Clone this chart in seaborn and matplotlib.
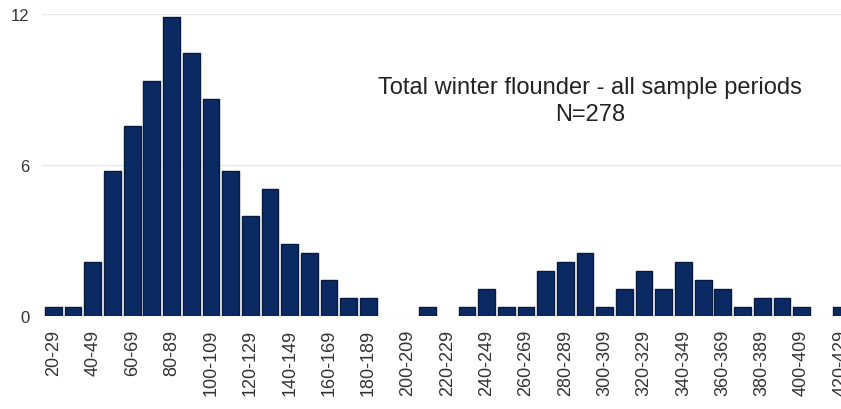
import numpy as np
import pandas as pd
import seaborn as sns
import matplotlib.pyplot as plt

# length bins (mm) and fish counts, N=278
bin_starts = list(range(20, 430, 10))
counts = [1, 1, 6, 16, 21, 26, 33, 29, 24, 16, 11, 14, 8, 7, 4, 2, 2, 0, 0,
          1, 0, 1, 3, 1, 1, 5, 6, 7, 1, 3, 5, 3, 6, 4, 3, 1, 2, 2, 1, 0, 1]
n_total = 278
bin_labels = [f"{b}-{b+9}" for b in bin_starts]

df = pd.DataFrame({"bin": bin_labels, "pct": np.array(counts) / n_total * 100})

sns.set_style("white")
plt.rcParams['font.family'] = ['Liberation Sans', 'DejaVu Sans']

fig = plt.figure(figsize=(8.41, 4.10), dpi=100)
ax = fig.add_axes([42/841, 93/410, 1 - 42/841, 302/410])

sns.barplot(data=df, x="bin", y="pct", color="#0b2a63", edgecolor="#061a3d",
            linewidth=1.0, width=0.85, saturation=1, ax=ax)
# empty bins: no outline
for p in ax.patches:
    if p.get_height() == 0:
        p.set_linewidth(0)

ax.set_xlim(-0.58, 39.4)
ax.set_ylim(0, 12)
ax.set_yticks([0, 6, 12])
ax.set_yticklabels(["0", "6", "12"], fontsize=12, color="#333333")
ax.yaxis.grid(True, color="#e8e8e8", linewidth=1)
ax.set_axisbelow(True)

ax.set_xticks(range(0, len(bin_labels), 2))
ax.set_xticklabels(bin_labels[::2], rotation=90, fontsize=13, color="#333333")
ax.tick_params(axis="both", length=0, pad=9)
ax.set_xlabel("")
ax.set_ylabel("")
for s in ax.spines.values():
    s.set_visible(False)

ax.text(0.686, 0.715, "Total winter flounder - all sample periods\nN=278",
        transform=ax.transAxes, ha="center", va="center", fontsize=17,
        color="#222222", linespacing=1.3)

fig.savefig("out.png", dpi=100)
